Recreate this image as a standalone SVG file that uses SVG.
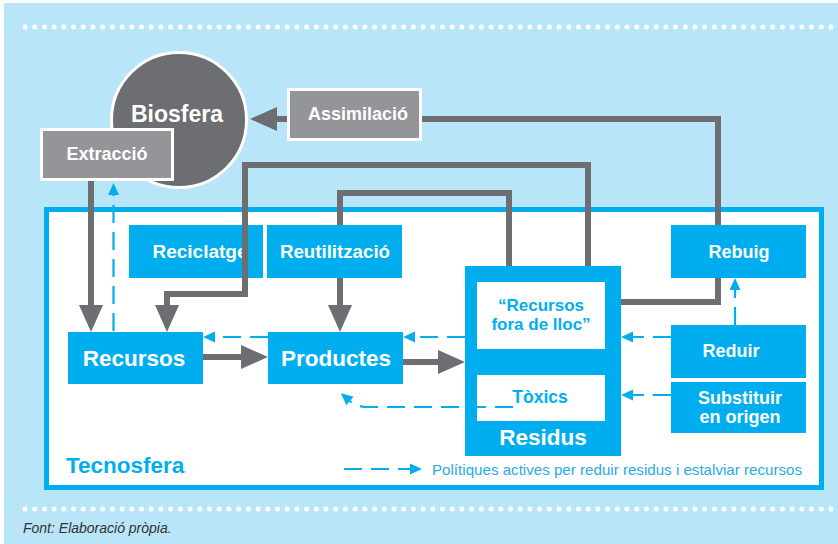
<svg xmlns="http://www.w3.org/2000/svg" width="838" height="544" viewBox="0 0 838 544">
<defs>
<marker id="ag" markerUnits="userSpaceOnUse" markerWidth="28" markerHeight="24" refX="0" refY="12" orient="auto" overflow="visible"><path d="M0,0 L27,12 L0,24 z" fill="#6d6e71"/></marker>
<marker id="ab" markerUnits="userSpaceOnUse" markerWidth="13" markerHeight="12" refX="0" refY="5.5" orient="auto" overflow="visible"><path d="M0,0 L12,5.5 L0,11 z" fill="#00aeef"/></marker>
<style>
.bg{fill:#b9e5f9}
.dots{stroke:#fff;stroke-width:5;stroke-linecap:round;stroke-dasharray:0 9.71;fill:none}
.blue{fill:#00aeef}
.wbox{fill:#fff}
.gbox{fill:#939598;stroke:#fff;stroke-width:3}
.g{fill:none;stroke:#6d6e71;stroke-width:6;marker-end:url(#ag)}
.d{fill:none;stroke:#00aeef;stroke-width:2.2;stroke-dasharray:18 9;marker-end:url(#ab)}
text{font-family:"Liberation Sans",Arial,sans-serif;font-weight:bold;text-anchor:middle}
.wt{fill:#fff}
.bt{fill:#00aeef}
</style>
</defs>
<rect x="0" y="0" width="838" height="544" fill="#fff"/>
<rect class="bg" x="4" y="3" width="834" height="541"/>
<line class="dots" x1="25" y1="27" x2="831" y2="27"/>
<line class="dots" x1="25" y1="509" x2="831" y2="509"/>
<rect x="46.5" y="209.5" width="775" height="278" fill="#fff" stroke="#00aeef" stroke-width="5"/>

<g id="biosfera">
<circle cx="179" cy="120" r="67.5" fill="#6d6e71" stroke="#fff" stroke-width="3"/>
<text class="wt" x="177" y="122" font-size="23">Biosfera</text>
</g>
<g id="extraccio">
<rect class="gbox" x="41.5" y="129.5" width="131" height="50"/>
<text class="wt" x="107" y="160" font-size="18">Extracció</text>
</g>
<g id="reciclatge">
<rect class="blue" x="129" y="225" width="134" height="53"/>
<text class="wt" x="200" y="258" font-size="19">Reciclatge</text>
</g>
<g id="residus">
<rect class="blue" x="465" y="266" width="156" height="190"/>
<rect class="wbox" x="477" y="282" width="128" height="67"/>
<rect class="wbox" x="477" y="375" width="128" height="46"/>
<text class="bt" x="541" y="311" font-size="17">“Recursos</text>
<text class="bt" x="541" y="330" font-size="17">fora de lloc”</text>
<text class="bt" x="540" y="403" font-size="17.5">Tòxics</text>
<text class="wt" x="543" y="445" font-size="22.5">Residus</text>
</g>

<g id="connectors">
<path class="g" d="M621,302 H718 V119 H277"/>
<path class="g" d="M588,266 V165 H245 V294 H167 V305"/>
<path class="g" d="M509,266 V193 H340 V305"/>
<path class="g" d="M91,181 V305"/>
<path class="g" d="M203,357 H241"/>
<path class="g" d="M403,362 H438"/>
<path class="d" d="M113.5,331 V195"/>
<path class="d" d="M268,337 H215"/>
<path class="d" d="M465,337 H415"/>
<path class="d" d="M671,337 H633"/>
<path class="d" d="M671,395 H633"/>
<path class="d" d="M735,325 V290"/>
<path class="d" d="M513,407 H368 Q357,407 350,401"/>
<path class="d" d="M344,469 H410"/>
</g>

<g id="assimilacio">
<rect class="gbox" x="288.5" y="89.5" width="132" height="50"/>
<text class="wt" x="358" y="120" font-size="18">Assimilació</text>
</g>
<g id="reutilitzacio">
<rect class="blue" x="267" y="225" width="135" height="53"/>
<text class="wt" x="335" y="258" font-size="18.7">Reutilització</text>
</g>
<g id="recursos">
<rect class="blue" x="68" y="332" width="135" height="52"/>
<text class="wt" x="134" y="366" font-size="22.5">Recursos</text>
</g>
<g id="productes">
<rect class="blue" x="268" y="332" width="135" height="52"/>
<text class="wt" x="336" y="366" font-size="22.5">Productes</text>
</g>
<g id="rebuig">
<rect class="blue" x="671" y="225" width="135" height="53"/>
<text class="wt" x="739" y="258" font-size="18">Rebuig</text>
</g>
<g id="reduir">
<rect class="blue" x="671" y="325" width="135" height="53"/>
<text class="wt" x="731" y="357" font-size="18">Reduir</text>
</g>
<g id="substituir">
<rect class="blue" x="671" y="382" width="135" height="51"/>
<text class="wt" x="740" y="404" font-size="18">Substituir</text>
<text class="wt" x="740" y="423" font-size="18">en origen</text>
</g>

<g id="legend">
<text class="bt" x="66" y="473" font-size="22.5" style="text-anchor:start">Tecnosfera</text>
<text x="432" y="475" font-size="14.5" fill="#29abe2" style="text-anchor:start;font-weight:normal" textLength="370" lengthAdjust="spacingAndGlyphs">Polítiques actives per reduir residus i estalviar recursos</text>
</g>
<text x="23" y="533" font-size="14" fill="#333" style="text-anchor:start;font-weight:normal;font-style:italic">Font: Elaboració pròpia.</text>
</svg>
